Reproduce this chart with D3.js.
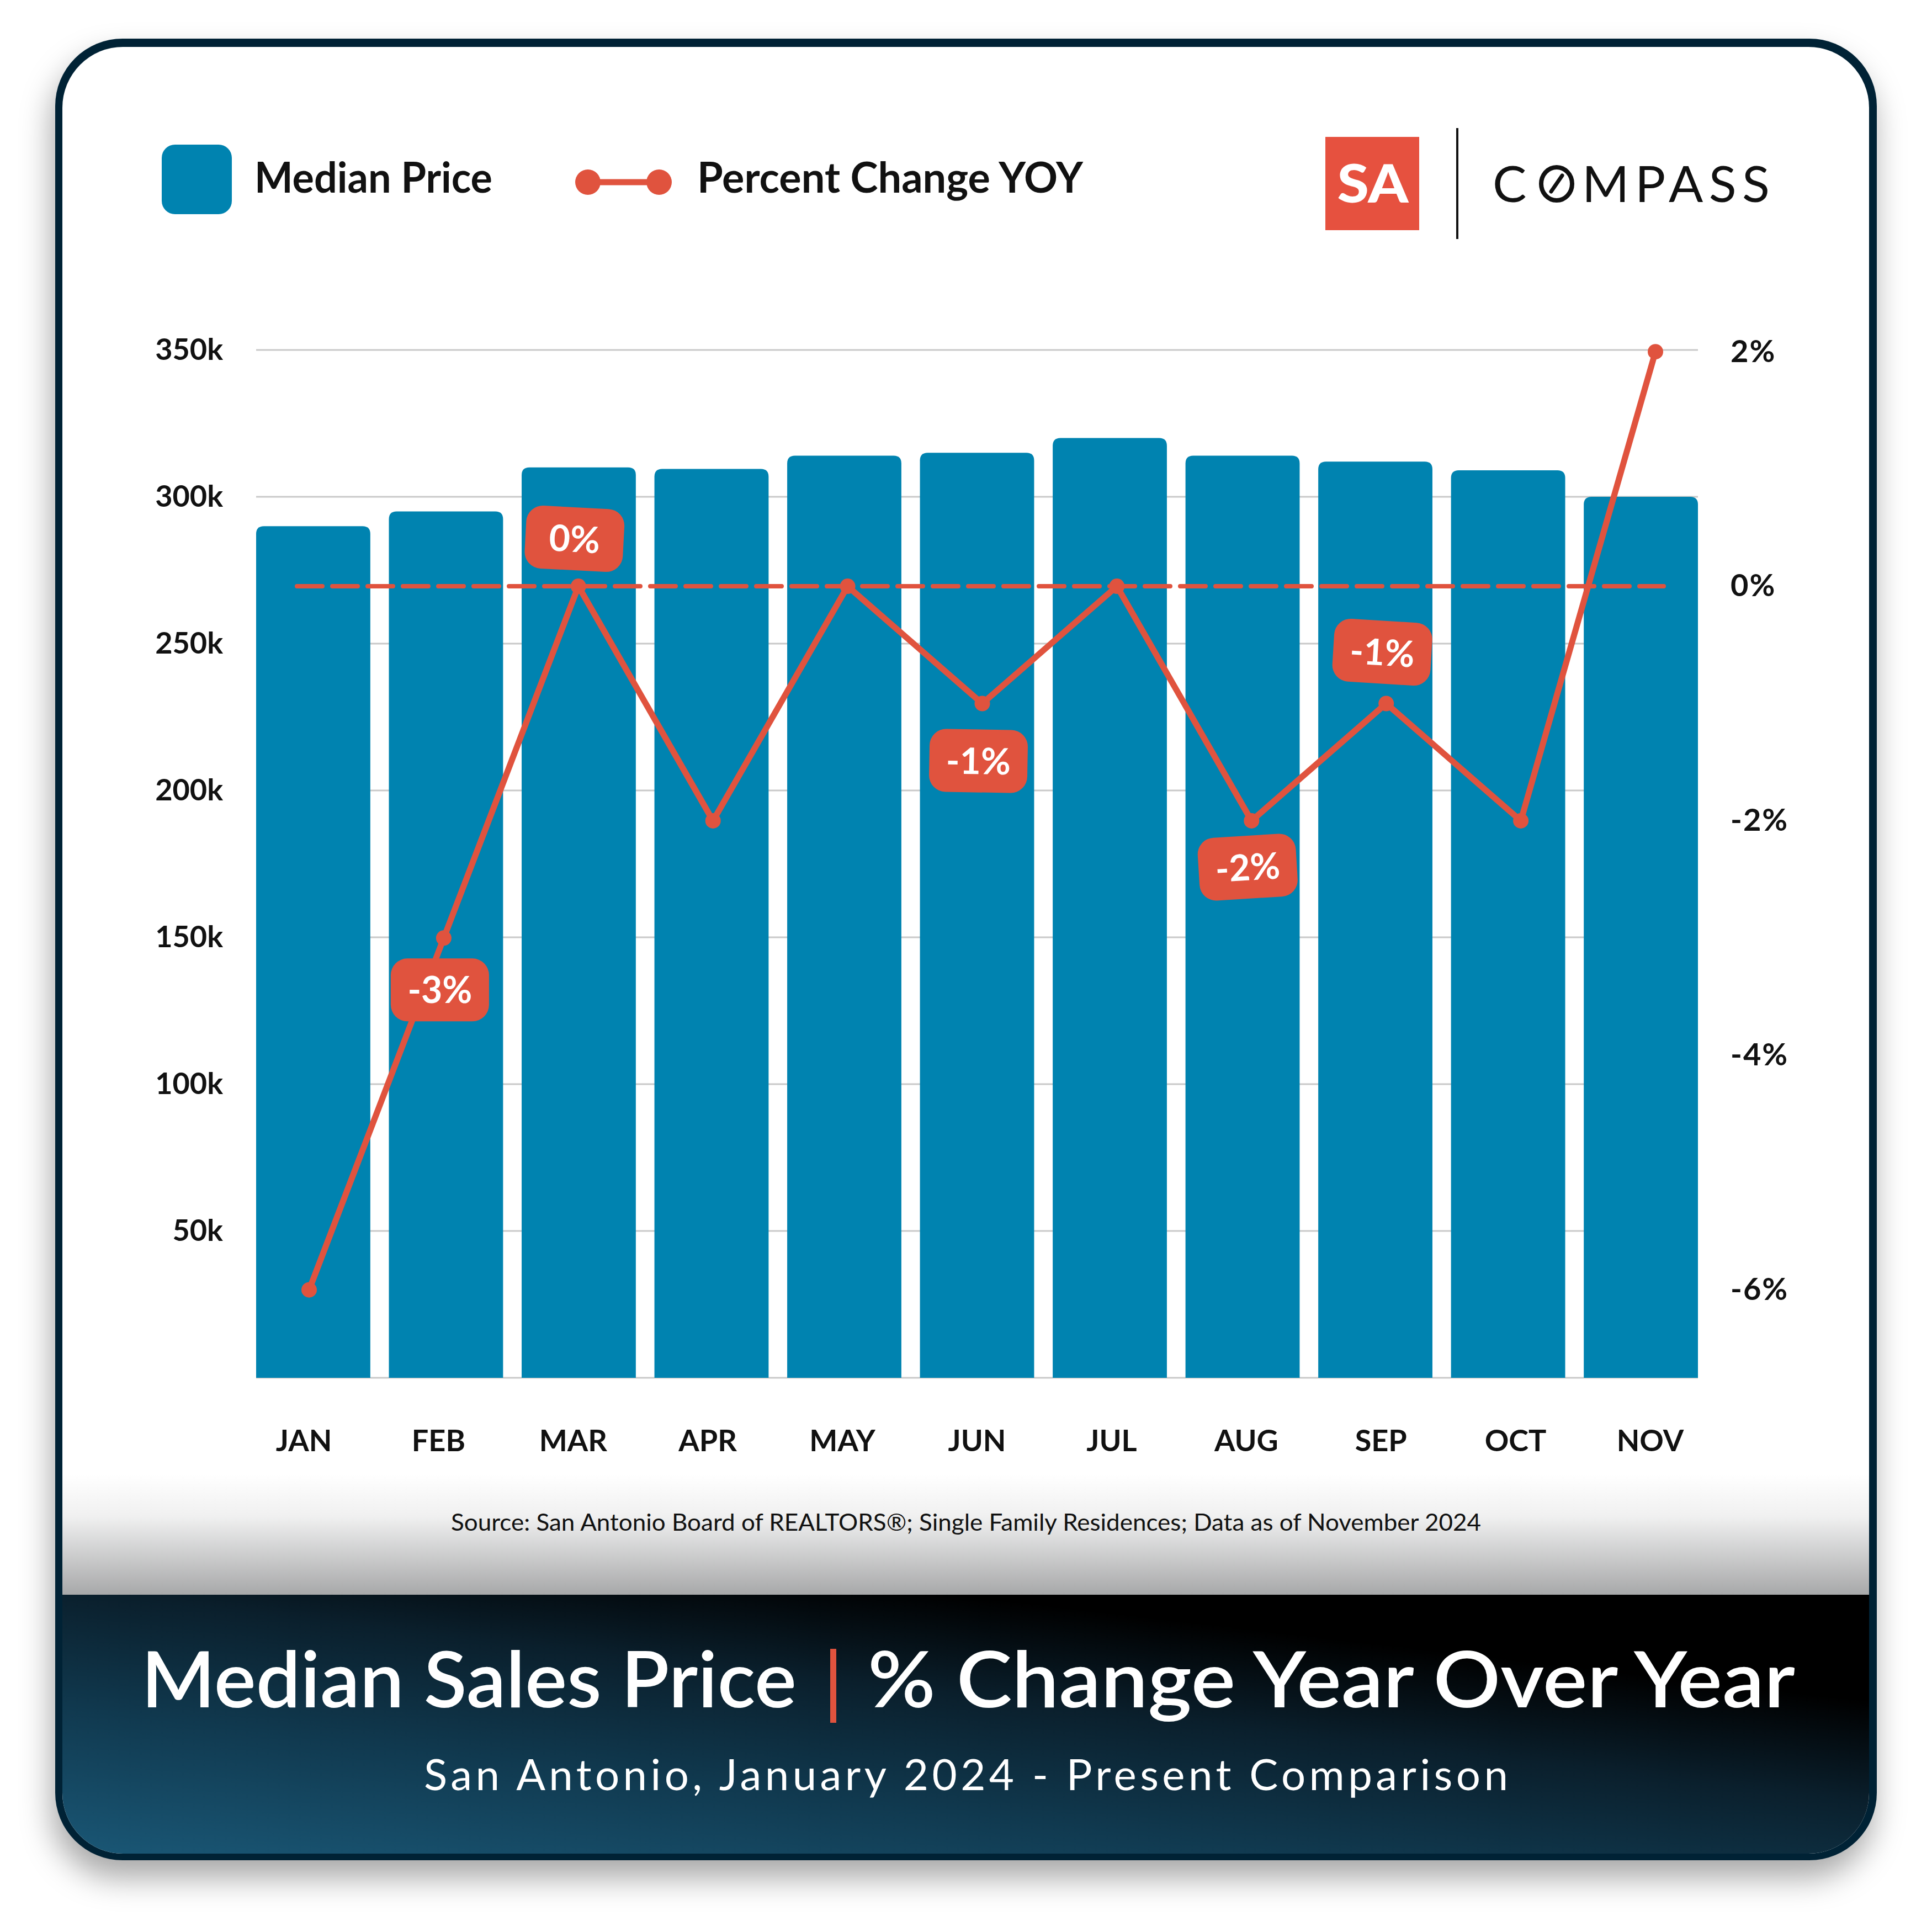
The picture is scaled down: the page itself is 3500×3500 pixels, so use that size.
<!DOCTYPE html>
<html>
<head>
<meta charset="utf-8">
<script src="https://cdn.jsdelivr.net/npm/d3@7"></script>
<style>
  body { margin: 0; background: #fff; }
  text { font-family: Lato, "Open Sans", sans-serif; }
</style>
</head>
<body>
<div id="chart"></div>
<script>
// --- data ---
const months = ["JAN", "FEB", "MAR", "APR", "MAY", "JUN", "JUL", "AUG", "SEP", "OCT", "NOV"];
const medianPrice = [290000, 295000, 310000, 309500, 314000, 315000, 320000, 314000, 312000, 309000, 300000];
const pctChange = [-6, -3, 0, -2, 0, -1, 0, -2, -1, -2, 2];
const priceGrid = [0, 50000, 100000, 150000, 200000, 250000, 300000, 350000];
const priceTicks = [50000, 100000, 150000, 200000, 250000, 300000, 350000];
const pctTicks = [2, 0, -2, -4, -6];
const calloutMonths = ["FEB", "MAR", "JUN", "AUG", "SEP"];

const legendLabels = ["Median Price", "Percent Change YOY"];
const titleLeft = "Median Sales Price";
const titleRight = "% Change Year Over Year";
const subtitle = "San Antonio, January 2024 - Present Comparison";
const source = "Source: San Antonio Board of REALTORS\u00AE; Single Family Residences; Data as of November 2024";

const W = 3500, H = 3500;
const blue = "#0083b0", red = "#e0533e", navy = "#022436";
const plot = { left: 464, right: 3076, top: 634, bottom: 2496 };

const svg = d3.select("#chart").append("svg")
    .attr("width", W)
    .attr("height", H);

const defs = svg.append("defs");

const shadow = defs.append("filter").attr("id", "shadow")
    .attr("x", "-10%").attr("y", "-10%").attr("width", "120%").attr("height", "120%");
shadow.append("feDropShadow")
    .attr("dx", -6).attr("dy", 32).attr("stdDeviation", 28)
    .attr("flood-color", "#000").attr("flood-opacity", 0.34);

const bannerGrad = defs.append("linearGradient").attr("id", "bannerGrad")
    .attr("x1", 0).attr("y1", 1).attr("x2", 0.8).attr("y2", 0);
bannerGrad.append("stop").attr("offset", 0).attr("stop-color", "#1a5877");
bannerGrad.append("stop").attr("offset", 0.35).attr("stop-color", "#10394f");
bannerGrad.append("stop").attr("offset", 0.62).attr("stop-color", "#0a1f2c");
bannerGrad.append("stop").attr("offset", 0.85).attr("stop-color", "#000");

const fadeGrad = defs.append("linearGradient").attr("id", "fadeGrad")
    .attr("x1", 0).attr("y1", 0).attr("x2", 0).attr("y2", 1);
fadeGrad.append("stop").attr("offset", 0).attr("stop-color", "#fff");
fadeGrad.append("stop").attr("offset", 0.35).attr("stop-color", "#f0f0f0");
fadeGrad.append("stop").attr("offset", 1).attr("stop-color", "#a7a8a9");

defs.append("clipPath").attr("id", "inner")
    .append("rect")
    .attr("x", 113).attr("y", 85).attr("width", 3273).attr("height", 3273).attr("rx", 110);

// card frame
svg.append("rect")
    .attr("x", 100).attr("y", 70).attr("width", 3300).attr("height", 3300).attr("rx", 122)
    .attr("fill", navy)
    .attr("filter", "url(#shadow)");

const inner = svg.append("g").attr("clip-path", "url(#inner)");
inner.append("rect")
    .attr("x", 100).attr("y", 70).attr("width", 3300).attr("height", 3300)
    .attr("fill", "#fff");
inner.append("rect")
    .attr("x", 100).attr("y", 2670).attr("width", 3300).attr("height", 220)
    .attr("fill", "url(#fadeGrad)");
inner.append("rect")
    .attr("x", 100).attr("y", 2889).attr("width", 3300).attr("height", 480)
    .attr("fill", "url(#bannerGrad)");

// --- scales ---
const x = d3.scaleBand().domain(months).range([plot.left, plot.right]).paddingInner(0.14).paddingOuter(0);
const xp = d3.scalePoint().domain(months).range([plot.left + 96, plot.right - 77]);
const y = d3.scaleLinear().domain([0, 350000]).range([plot.bottom, plot.top]);
const y2 = d3.scaleLinear().domain([-6.75, 2.015]).range([plot.bottom, plot.top]);

// gridlines
svg.append("g")
    .selectAll("line")
    .data(priceGrid)
    .join("line")
    .attr("x1", plot.left).attr("x2", plot.right)
    .attr("y1", d => y(d)).attr("y2", d => y(d))
    .attr("stroke", "#c9c9c9")
    .attr("stroke-width", 3);

// bars with rounded tops
const r = 14;
svg.append("g")
    .selectAll("path")
    .data(months.map((m, i) => ({ m, v: medianPrice[i] })))
    .join("path")
    .attr("d", d => {
        const x0 = x(d.m), x1 = x0 + x.bandwidth(), t = y(d.v), b = y(0);
        return `M${x0},${b}V${t + r}Q${x0},${t} ${x0 + r},${t}H${x1 - r}Q${x1},${t} ${x1},${t + r}V${b}Z`;
    })
    .attr("fill", blue);

// axes
const leftAxis = svg.append("g")
    .attr("transform", `translate(${plot.left},0)`)
    .call(d3.axisLeft(y).tickValues(priceTicks).tickFormat(d => d / 1000 + "k").tickSize(0).tickPadding(60));
const rightAxis = svg.append("g")
    .attr("transform", `translate(${plot.right},0)`)
    .call(d3.axisRight(y2).tickValues(pctTicks).tickFormat(d => d + "%").tickSize(0).tickPadding(59));
// month labels sit under the line points, nudged a little left as in the original
const bottomAxis = svg.append("g")
    .attr("transform", `translate(-10,${plot.bottom})`)
    .call(d3.axisBottom(xp).tickSize(0).tickPadding(95));

[leftAxis, rightAxis, bottomAxis].forEach(g => {
    g.select(".domain").remove();
    g.selectAll("text")
        .attr("fill", "#111")
        .style("font-family", "Lato, sans-serif")
        .style("font-weight", 700)
        .style("font-size", "54px");
});
rightAxis.selectAll("text").style("font-size", "56px").attr("letter-spacing", 2);

// zero reference line
svg.append("line")
    .attr("x1", xp(months[0]) - 22).attr("x2", xp(months[months.length - 1]) + 15)
    .attr("y1", y2(0)).attr("y2", y2(0))
    .attr("stroke", red)
    .attr("stroke-width", 8)
    .attr("stroke-linecap", "round")
    .attr("stroke-dasharray", "46 18");

// percent change line
const pts = months.map((m, i) => ({ m, v: pctChange[i] }));
svg.append("path")
    .datum(pts)
    .attr("d", d3.line().x(d => xp(d.m)).y(d => y2(d.v)))
    .attr("fill", "none")
    .attr("stroke", red)
    .attr("stroke-width", 11)
    .attr("stroke-linejoin", "round");

svg.append("g")
    .selectAll("circle")
    .data(pts)
    .join("circle")
    .attr("cx", d => xp(d.m))
    .attr("cy", d => y2(d.v))
    .attr("r", 14)
    .attr("fill", red);

// callout labels
const calloutSide = { FEB: 94, MAR: -86, JUN: 104, AUG: 84, SEP: -93 };
const calloutTilt = { FEB: 0, MAR: 3, JUN: 1, AUG: -3.5, SEP: 3.5 };
const callouts = svg.append("g")
    .selectAll("g")
    .data(calloutMonths.map(m => ({ m, v: pctChange[months.indexOf(m)] })))
    .join("g")
    .attr("transform", d => `translate(${xp(d.m) - 7},${y2(d.v) + calloutSide[d.m]}) rotate(${calloutTilt[d.m]})`);

callouts.append("rect")
    .attr("x", -89).attr("y", -57).attr("width", 178).attr("height", 114).attr("rx", 30)
    .attr("fill", red);
callouts.append("text")
    .attr("text-anchor", "middle")
    .attr("dy", "0.36em")
    .attr("fill", "#fff")
    .style("font-weight", 700)
    .style("font-size", "66px")
    .text(d => d.v + "%");

// legend
const legend = svg.append("g");
legend.append("rect")
    .attr("x", 293).attr("y", 262).attr("width", 127).attr("height", 126).attr("rx", 24)
    .attr("fill", blue);
legend.append("text")
    .attr("x", 461).attr("y", 349)
    .attr("fill", "#111")
    .attr("textLength", 431).attr("lengthAdjust", "spacingAndGlyphs")
    .style("font-weight", 700).style("font-size", "76px")
    .text(legendLabels[0]);
legend.append("line")
    .attr("x1", 1065).attr("x2", 1194).attr("y1", 330).attr("y2", 330)
    .attr("stroke", red).attr("stroke-width", 11);
legend.selectAll("circle.key")
    .data([1065, 1194])
    .join("circle")
    .attr("class", "key")
    .attr("cx", d => d).attr("cy", 330).attr("r", 23)
    .attr("fill", red);
legend.append("text")
    .attr("x", 1263).attr("y", 349)
    .attr("fill", "#111")
    .attr("textLength", 699).attr("lengthAdjust", "spacingAndGlyphs")
    .style("font-weight", 700).style("font-size", "76px")
    .text(legendLabels[1]);

// logos
const logo = svg.append("g");
logo.append("rect")
    .attr("x", 2401).attr("y", 248).attr("width", 170).attr("height", 169)
    .attr("fill", "#e6513f");
logo.append("text")
    .attr("x", 2487).attr("y", 367)
    .attr("text-anchor", "middle")
    .attr("fill", "#fff")
    .attr("textLength", 129).attr("lengthAdjust", "spacingAndGlyphs")
    .style("font-weight", 900).style("font-size", "96px")
    .text("SA");
logo.append("line")
    .attr("x1", 2640).attr("x2", 2640).attr("y1", 232).attr("y2", 433)
    .attr("stroke", "#111").attr("stroke-width", 4);
logo.append("text")
    .attr("x", 2704).attr("y", 366)
    .attr("fill", "#111")
    .style("font-weight", 400).style("font-size", "92px")
    .text("C");
logo.append("ellipse")
    .attr("cx", 2820).attr("cy", 333).attr("rx", 28).attr("ry", 30)
    .attr("fill", "none").attr("stroke", "#111").attr("stroke-width", 8);
logo.append("line")
    .attr("x1", 2810).attr("y1", 347).attr("x2", 2830).attr("y2", 318)
    .attr("stroke", "#111").attr("stroke-width", 7).attr("stroke-linecap", "round");
logo.append("text")
    .attr("x", 2866).attr("y", 366)
    .attr("fill", "#111")
    .attr("textLength", 340).attr("lengthAdjust", "spacing")
    .style("font-weight", 400).style("font-size", "92px")
    .text("MPASS");

// source note
svg.append("text")
    .attr("x", 1750).attr("y", 2773)
    .attr("text-anchor", "middle")
    .attr("fill", "#111")
    .attr("textLength", 1866).attr("lengthAdjust", "spacingAndGlyphs")
    .style("font-size", "42px")
    .text(source);

// banner title
svg.append("text")
    .attr("x", 256).attr("y", 3093)
    .attr("fill", "#fff")
    .attr("textLength", 1187).attr("lengthAdjust", "spacingAndGlyphs")
    .style("font-weight", 600).style("font-size", "140px")
    .text(titleLeft);
svg.append("rect")
    .attr("x", 1504).attr("y", 2987).attr("width", 11).attr("height", 134)
    .attr("fill", red);
svg.append("text")
    .attr("x", 1572).attr("y", 3093)
    .attr("fill", "#fff")
    .attr("textLength", 1680).attr("lengthAdjust", "spacingAndGlyphs")
    .style("font-weight", 600).style("font-size", "140px")
    .text(titleRight);
svg.append("text")
    .attr("x", 768).attr("y", 3243)
    .attr("fill", "#fff")
    .attr("textLength", 1964).attr("lengthAdjust", "spacing")
    .style("font-weight", 400).style("font-size", "78px")
    .text(subtitle);
</script>
</body>
</html>
